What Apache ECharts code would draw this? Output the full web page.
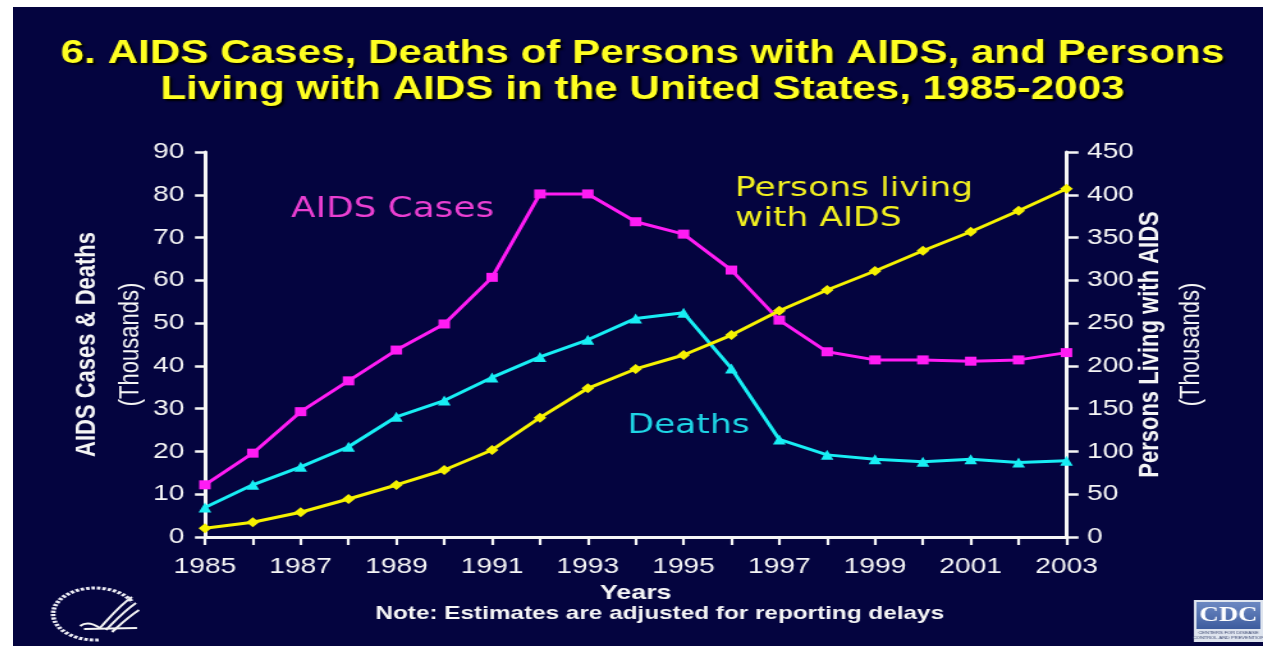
<!DOCTYPE html>
<html>
<head>
<meta charset="utf-8">
<title>AIDS Cases, Deaths and Persons Living with AIDS, 1985-2003</title>
<script src="https://cdn.jsdelivr.net/npm/echarts@6/dist/echarts.min.js"></script>
<style>
  html, body { margin: 0; padding: 0; width: 1263px; height: 647px; background: #ffffff; overflow: hidden; }
  #slide { position: absolute; left: 13px; top: 7px; width: 1250px; height: 639px; background: #04043f; overflow: hidden; }
  /* the slide is drawn at 977px and widened to 1250px */
  #chart { position: absolute; left: 0; top: 0; width: 977px; height: 639px; transform: scaleX(1.2794); transform-origin: 0 0; }
</style>
</head>
<body>
<div id="slide"><div id="chart"></div></div>
<script>
// Years on the category axis
const years = ['1985', '1986', '1987', '1988', '1989', '1990', '1991', '1992', '1993', '1994',
               '1995', '1996', '1997', '1998', '1999', '2000', '2001', '2002', '2003'];

// AIDS cases (thousands, left axis)
const aidsCases = [12.2, 19.6, 29.3, 36.5, 43.7, 49.8, 60.7, 80.2, 80.2, 73.7,
                   70.8, 62.4, 50.7, 43.3, 41.4, 41.4, 41.1, 41.4, 43.1];

// Deaths of persons with AIDS (thousands, left axis)
const deaths = [6.9, 12.2, 16.4, 21.1, 28.1, 31.9, 37.3, 42.1, 46.1, 51.1,
                52.4, 39.4, 22.8, 19.2, 18.2, 17.6, 18.2, 17.4, 17.8];

// Persons living with AIDS (thousands, right axis)
const personsLiving = [10.2, 17.2, 28.9, 44.4, 60.8, 78.3, 101.7, 139.5, 173.8, 196.4,
                       212.7, 236.0, 264.5, 288.7, 310.9, 334.6, 356.8, 381.4, 407.0];

// Axis ranges
const leftAxisMax = 90, leftAxisStep = 10;
const rightAxisMax = 450, rightAxisStep = 50;

const SANS = "'Liberation Sans', Arial, Helvetica, sans-serif";
const WIDE = "'DejaVu Sans', Verdana, sans-serif";
const WHITE = '#f6f6f6';
const C_CASES = '#ff1cf4';
const C_DEATHS = '#18eef4';
const C_LIVING = '#f6f200';

const chart = echarts.init(document.getElementById('chart'));

function axisCommon(tickLen) {
  return {
    axisLine: { show: true, lineStyle: { color: WHITE, width: 3 } },
    axisTick: { show: true, length: tickLen, lineStyle: { color: WHITE, width: 2.5 } },
    axisLabel: { color: WHITE, fontSize: 22, fontFamily: SANS, margin: 16 },
    splitLine: { show: false }
  };
}

// two-line axis title: bold caption over a plain "(Thousands)"
function axisTitleStyle(lineH) {
  return {
    color: WHITE, fontSize: 22, fontFamily: SANS, lineHeight: lineH,
    rich: {
      b: { color: WHITE, fontSize: 22, fontWeight: 'bold', fontFamily: SANS, lineHeight: lineH },
      n: { color: WHITE, fontSize: 22, fontFamily: SANS, lineHeight: lineH }
    }
  };
}

const option = {
  backgroundColor: 'transparent',
  animation: false,
  title: {
    text: '6. AIDS Cases, Deaths of Persons with AIDS, and Persons\nLiving with AIDS in the United States, 1985-2003',
    left: 492,
    textAlign: 'center',
    top: 29,
    padding: 0,
    textStyle: {
      color: '#ffff22',
      fontSize: 33,
      fontWeight: 'bold',
      fontFamily: SANS,
      lineHeight: 36,
      textShadowColor: '#000000',
      textShadowBlur: 2,
      textShadowOffsetX: 2,
      textShadowOffsetY: 2
    }
  },
  grid: { left: 150, right: 153.6, top: 145, bottom: 109, containLabel: false },
  xAxis: {
    type: 'category',
    data: years,
    boundaryGap: false,
    name: 'Years',
    nameLocation: 'middle',
    nameGap: 46,
    nameMoveOverlap: false,
    nameTextStyle: { color: WHITE, fontSize: 21, fontWeight: 'bold', fontFamily: SANS },
    axisLine: { show: true, lineStyle: { color: WHITE, width: 3 } },
    axisTick: { show: true, interval: 0, length: 8, lineStyle: { color: WHITE, width: 2.2 } },
    axisLabel: { interval: 1, color: WHITE, fontSize: 22, fontFamily: SANS, margin: 19 },
    splitLine: { show: false }
  },
  yAxis: [
    Object.assign(axisCommon(7.8), {
      type: 'value',
      position: 'left',
      min: 0, max: leftAxisMax, interval: leftAxisStep,
      name: '{b|AIDS Cases & Deaths}\n{n|(Thousands)}',
      nameLocation: 'middle',
      nameGap: 41,
      nameMoveOverlap: false,
      nameTextStyle: axisTitleStyle(34)
    }),
    Object.assign(axisCommon(9.4), {
      type: 'value',
      position: 'right',
      min: 0, max: rightAxisMax, interval: rightAxisStep,
      name: '{b|Persons Living with AIDS}\n{n|(Thousands)}',
      nameLocation: 'middle',
      nameGap: 50,
      nameMoveOverlap: false,
      nameTextStyle: axisTitleStyle(32)
    })
  ],
  series: [
    {
      name: 'AIDS Cases',
      type: 'line',
      yAxisIndex: 0,
      data: aidsCases,
      symbol: 'rect',
      symbolSize: 9,
      lineStyle: { color: C_CASES, width: 3 },
      itemStyle: { color: C_CASES },
      z: 3
    },
    {
      name: 'Deaths',
      type: 'line',
      yAxisIndex: 0,
      data: deaths,
      symbol: 'triangle',
      symbolSize: 10,
      lineStyle: { color: C_DEATHS, width: 3 },
      itemStyle: { color: C_DEATHS },
      z: 4
    },
    {
      name: 'Persons living with AIDS',
      type: 'line',
      yAxisIndex: 1,
      data: personsLiving,
      symbol: 'diamond',
      symbolSize: 10,
      lineStyle: { color: C_LIVING, width: 3 },
      itemStyle: { color: C_LIVING },
      z: 5
    }
  ],
  graphic: [
    // series captions
    { type: 'text', x: 296.6, y: 203, style: { text: 'AIDS Cases', fill: '#ea3fd2', font: '28px ' + WIDE, textAlign: 'center', textVerticalAlign: 'middle' } },
    { type: 'text', x: 528, y: 419, style: { text: 'Deaths', fill: '#1fd6e6', font: '27px ' + WIDE, textAlign: 'center', textVerticalAlign: 'middle' } },
    { type: 'text', x: 564.3, y: 196.5, style: { text: 'Persons living\nwith AIDS', fill: '#f2f020', font: '27px ' + WIDE, lineHeight: 30, textAlign: 'left', textVerticalAlign: 'middle' } },
    // footnote
    { type: 'text', x: 505.5, y: 607, style: { text: 'Note: Estimates are adjusted for reporting delays', fill: WHITE, font: 'bold 19px ' + SANS, textAlign: 'center', textVerticalAlign: 'middle' } },
    // HHS seal
    {
      type: 'group',
      children: [
        { type: 'arc', x: 64.1, y: 607, scaleX: 1.26, shape: { cx: 0, cy: 0, r: 26, startAngle: 85 * Math.PI / 180, endAngle: 333 * Math.PI / 180, clockwise: true }, style: { stroke: '#ececf4', lineWidth: 3, lineDash: [2.2, 1.2], fill: null } },
        { type: 'bezierCurve', shape: { x1: 93.0, y1: 590, cpx1: 83.6, cpy1: 598, cpx2: 77.4, cpy2: 608, x2: 68.0, y2: 621 }, style: { stroke: '#f4f4f4', lineWidth: 2, fill: null } },
        { type: 'bezierCurve', shape: { x1: 96.1, y1: 596, cpx1: 86.8, cpy1: 604, cpx2: 80.5, cpy2: 613, x2: 72.7, y2: 623 }, style: { stroke: '#f4f4f4', lineWidth: 2, fill: null } },
        { type: 'bezierCurve', shape: { x1: 98.5, y1: 603, cpx1: 89.9, cpy1: 610, cpx2: 84.4, cpy2: 617, x2: 77.4, y2: 625 }, style: { stroke: '#f4f4f4', lineWidth: 2, fill: null } },
        { type: 'bezierCurve', shape: { x1: 68.0, y1: 621, cpx1: 58.6, cpy1: 613, x2: 52.4, y2: 619 }, style: { stroke: '#f4f4f4', lineWidth: 2, fill: null } },
        { type: 'line', shape: { x1: 55.5, y1: 622, x2: 96.9, y2: 621 }, style: { stroke: '#f4f4f4', lineWidth: 1.8 } }
      ]
    },
    // CDC mark
    {
      type: 'group',
      x: 923, y: 593,
      children: [
        { type: 'rect', shape: { x: 0, y: 0, width: 54, height: 42 }, style: { fill: '#dfe5ef' } },
        { type: 'rect', shape: { x: 2, y: 2, width: 50, height: 27 }, style: { fill: new echarts.graphic.LinearGradient(0, 0, 0, 1, [{ offset: 0, color: '#6c88c2' }, { offset: 1, color: '#3d5c9e' }]) } },
        { type: 'text', x: 27, y: 16, style: { text: 'CDC', fill: '#ffffff', font: 'bold 21px "Liberation Serif", serif', textAlign: 'center', textVerticalAlign: 'middle' } },
        { type: 'text', x: 27, y: 33, style: { text: 'CENTERS FOR DISEASE', fill: '#3a4670', font: '4px ' + SANS, textAlign: 'center', textVerticalAlign: 'middle' } },
        { type: 'text', x: 27, y: 38, style: { text: 'CONTROL AND PREVENTION', fill: '#3a4670', font: '4px ' + SANS, textAlign: 'center', textVerticalAlign: 'middle' } }
      ]
    }
  ]
};

chart.setOption(option);
</script>
</body>
</html>
